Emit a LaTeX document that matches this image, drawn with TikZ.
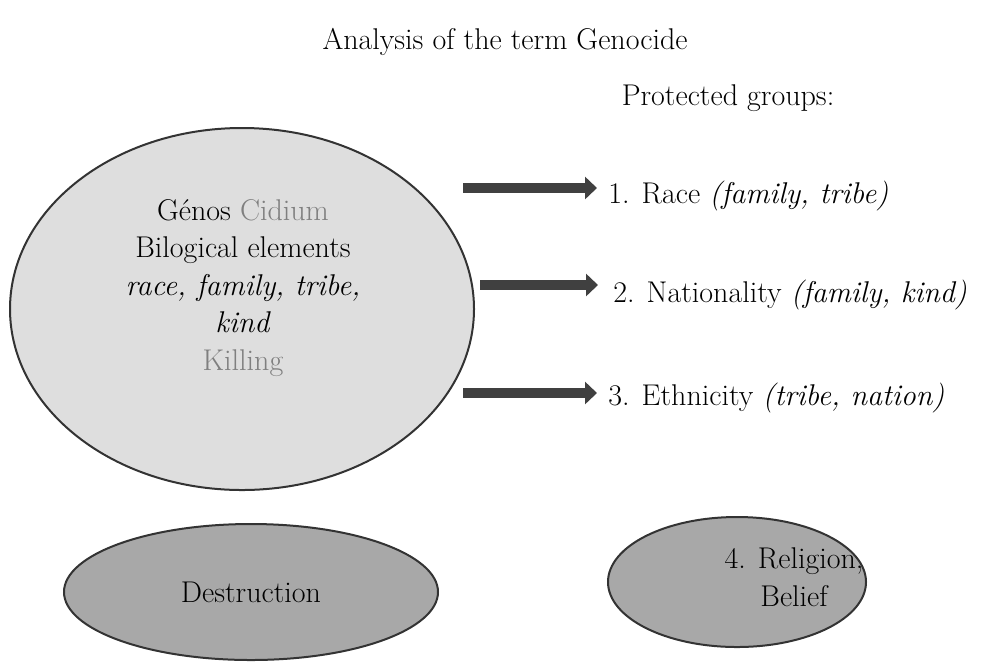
\documentclass[tikz,border=0pt]{standalone}
\usepackage{tikz}
\usetikzlibrary{shapes.geometric,arrows.meta}
\definecolor{ovalgray}{HTML}{DEDEDE}
\definecolor{darkoval}{HTML}{A8A8A8}
\definecolor{arrowgray}{HTML}{404040}
\definecolor{softgray}{HTML}{7F7F7F}

\begin{document}
\begin{tikzpicture}[x=0.5pt,y=-0.5pt,
	oval/.style={ellipse,draw=black!80,line width=1pt,inner sep=0pt},
	fatarrow/.style={arrowgray,line width=5pt,-{Triangle[length=6pt,width=11pt]}},
	txt/.style={font=\fontsize{15pt}{18.75pt}\selectfont,inner sep=0pt}]
	
	\useasboundingbox (0,0) rectangle (1004,665);
	
	\node[txt] (title) at (505,42) {Analysis of the term Genocide};
	\node[txt] (protected) at (728,98) {Protected groups:};
	
	% the word and its parts
	\node[oval,fill=ovalgray,minimum width=232pt,minimum height=181pt] (genos) at (242,309) {};
	\node[txt,align=center] (elements) at (243,288) {G\'enos \textcolor{softgray}{Cidium}\\ Bilogical elements\\ \textit{race, family, tribe,}\\ \textit{kind}\\ \textcolor{softgray}{Killing}};
	
	% the groups
	\node[txt,anchor=base west] (race) at (608,203) {1. Race \textit{(family, tribe)}};
	\node[txt,anchor=base west] (nation) at (613,302) {2. Nationality \textit{(family, kind)}};
	\node[txt,anchor=base west] (ethnic) at (608,405) {3. Ethnicity \textit{(tribe, nation)}};
	
	\coordinate (t1) at (463,188);
	\coordinate (t2) at (480,285);
	\coordinate (t3) at (463,393);
	\draw[fatarrow] (t1) -- ([xshift=-5.5pt]t1 -| race.west);
	\draw[fatarrow] (t2) -- ([xshift=-7.5pt]t2 -| nation.west);
	\draw[fatarrow] (t3) -- ([xshift=-5.5pt]t3 -| ethnic.west);
	
	\node[oval,fill=darkoval,minimum width=187pt,minimum height=68pt] (destr) at (251,592) {};
	\node[txt] (destrtext) at (251,592) {Destruction};
	
	\node[oval,fill=darkoval,minimum width=129pt,minimum height=65pt] (relig) at (737,582) {};
	\node[txt,align=center] (religtext) at (794,577) {4. Religion,\\ Belief};
	
\end{tikzpicture}
\end{document}
